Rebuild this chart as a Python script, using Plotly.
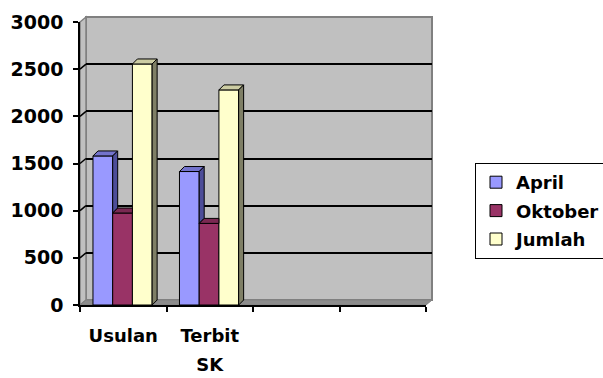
import plotly.graph_objects as go

# ---- data -----------------------------------------------------------------
categories = ["Usulan", "Terbit SK", "", ""]
series_names = ["April", "Oktober", "Jumlah"]
april = [1580, 1415]
oktober = [975, 865]
jumlah = [2555, 2280]
y_ticks = [0, 500, 1000, 1500, 2000, 2500, 3000]

# ---- styling ----------------------------------------------------------------
front_colors = ["#9999FF", "#993366", "#FFFFCC"]
side_colors = ["#4D4D99", "#5C1F3D", "#7F7F66"]
top_colors = ["#7373CC", "#7A2952", "#CCCCA3"]
FONT = "DejaVu Sans"

W, H = 603, 378


def fx(p):
    return p / W


def fy(p):
    return (H - p) / H


# front plane of the 3-D box (pixels) and the depth offset of the back wall
FL, FR, FT, FB = 80, 426, 22, 305
WALL_DX, WALL_DY = 6, 5
BAR_DX_PX, BAR_DY_PX = 5, 5

y_max = y_ticks[-1]
n_cat = len(categories)
px_per_cat = (FR - FL) / n_cat
px_per_val = (FB - FT) / y_max
dx = BAR_DX_PX / px_per_cat
dy = BAR_DY_PX / px_per_val

bar_w = 0.228
bar_start = -0.35

values = [april, oktober, jumlah]
xs = list(range(len(april)))

fig = go.Figure()

# front faces of the columns
for s, name in enumerate(series_names):
    fig.add_trace(go.Bar(
        x=xs, y=values[s], name=name,
        offset=bar_start + s * bar_w, width=bar_w,
        marker=dict(color=front_colors[s], line=dict(color="black", width=1)),
        xaxis="x2", yaxis="y2",
        legendgroup=name,
    ))

# top and side faces (clipped where the neighbouring column hides them)
for c in xs:
    for s in range(len(series_names)):
        v = values[s][c]
        x0 = c + bar_start + s * bar_w
        x1 = x0 + bar_w
        v_next = values[s + 1][c] if s + 1 < len(series_names) else 0
        if v_next > v:
            top_x = [x0, x1, x1, x0 + dx, x0]
            top_y = [v, v, v + dy, v + dy, v]
        else:
            top_x = [x0, x1, x1 + dx, x0 + dx, x0]
            top_y = [v, v, v + dy, v + dy, v]
        fig.add_trace(go.Scatter(
            x=top_x, y=top_y, mode="lines", fill="toself",
            fillcolor=top_colors[s], line=dict(color="black", width=1),
            xaxis="x2", yaxis="y2", showlegend=False, hoverinfo="skip",
        ))
        if v_next < v:
            b = max(v_next, 0)
            side_x = [x1, x1 + dx, x1 + dx, x1, x1]
            side_y = [b, b + dy, v + dy, v, b]
            fig.add_trace(go.Scatter(
                x=side_x, y=side_y, mode="lines", fill="toself",
                fillcolor=side_colors[s], line=dict(color="black", width=1),
                xaxis="x2", yaxis="y2", showlegend=False, hoverinfo="skip",
            ))

# helper traces so the wall grid and the second label row get their axes
fig.add_trace(go.Scatter(x=[None], y=[None], xaxis="x", yaxis="y",
                         showlegend=False, hoverinfo="skip"))
fig.add_trace(go.Scatter(x=[None], y=[None], xaxis="x3", yaxis="y2",
                         showlegend=False, hoverinfo="skip"))

# ---- box: back wall, side wall, floor ---------------------------------------
shapes = []
shapes.append(dict(
    type="rect", xref="paper", yref="paper", layer="below",
    x0=fx(FL + WALL_DX), x1=fx(FR + WALL_DX),
    y0=fy(FB - WALL_DY), y1=fy(FT - WALL_DY),
    fillcolor="#C0C0C0", line=dict(color="#808080", width=2),
))
shapes.append(dict(
    type="path", xref="paper", yref="paper", layer="below",
    path=(f"M {fx(FL)},{fy(FT)} L {fx(FL + WALL_DX)},{fy(FT - WALL_DY)} "
          f"L {fx(FL + WALL_DX)},{fy(FB - WALL_DY)} L {fx(FL)},{fy(FB)} Z"),
    fillcolor="#C0C0C0", line=dict(color="#808080", width=1.5),
))
shapes.append(dict(
    type="path", xref="paper", yref="paper", layer="below",
    path=(f"M {fx(FL)},{fy(FB)} L {fx(FR)},{fy(FB)} "
          f"L {fx(FR + WALL_DX)},{fy(FB - WALL_DY)} "
          f"L {fx(FL + WALL_DX)},{fy(FB - WALL_DY)} Z"),
    fillcolor="#8C8C8C", line=dict(color="#808080", width=1),
))
# grid lines running across the side wall
for t in y_ticks[1:-1]:
    yp = FB - t * px_per_val
    shapes.append(dict(
        type="line", xref="paper", yref="paper", layer="below",
        x0=fx(FL), y0=fy(yp), x1=fx(FL + WALL_DX), y1=fy(yp - WALL_DY),
        line=dict(color="black", width=1.5),
    ))

first_line = [c.split(" ")[0] if c else "" for c in categories]
second_line = [" ".join(c.split(" ")[1:]) for c in categories]
cat_pos = list(range(n_cat))

tick_font = dict(family=FONT, size=18, color="black", weight="bold")

fig.update_layout(
    width=W, height=H, autosize=False,
    margin=dict(l=0, r=0, t=0, b=0, autoexpand=False),
    paper_bgcolor="white", plot_bgcolor="rgba(0,0,0,0)",
    barmode="overlay",
    shapes=shapes,
    showlegend=True,
    legend=dict(
        xref="container", yref="container",
        x=fx(475), y=fy(163), xanchor="left", yanchor="top",
        bgcolor="white", bordercolor="black", borderwidth=1,
        font=dict(family=FONT, size=18, color="black", weight="bold"),
        traceorder="grouped", tracegroupgap=2, itemwidth=30,
    ),
    # back wall (grid)
    xaxis=dict(domain=[fx(FL + WALL_DX), fx(FR + WALL_DX)], range=[-0.5, n_cat - 0.5],
               anchor="y", showgrid=False, zeroline=False, showline=False,
               showticklabels=False, ticks=""),
    yaxis=dict(domain=[fy(FB - WALL_DY), fy(FT - WALL_DY)], range=[0, y_max],
               anchor="x", tickvals=y_ticks[1:-1], showgrid=True,
               gridcolor="black", gridwidth=1.5, zeroline=False,
               showline=False, showticklabels=False, ticks=""),
    # front plane (columns, axes, labels)
    xaxis2=dict(domain=[fx(FL), fx(FR)], range=[-0.5, n_cat - 0.5], anchor="y2",
                tickvals=cat_pos, ticktext=first_line, ticks="",
                showgrid=False, zeroline=False,
                showline=True, linecolor="black", linewidth=1.5,
                minor=dict(tick0=-0.5, dtick=1, ticks="outside", ticklen=5,
                           tickcolor="black", tickwidth=1.5, showgrid=False),
                tickfont=tick_font, ticklabelstandoff=14),
    xaxis3=dict(overlaying="x2", anchor="y2", range=[-0.5, n_cat - 0.5],
                tickvals=cat_pos, ticktext=second_line, ticks="",
                showgrid=False, zeroline=False, showline=False, side="bottom",
                tickfont=tick_font, ticklabelstandoff=47),
    yaxis2=dict(domain=[fy(FB), fy(FT)], range=[0, y_max], anchor="x2",
                tickvals=y_ticks, showgrid=False, zeroline=False,
                showline=True, linecolor="black", linewidth=1.5,
                ticks="outside", ticklen=5, tickcolor="black", tickwidth=1.5,
                tickfont=dict(family=FONT, size=19, color="black", weight="bold"),
                ticklabelstandoff=6),
)

fig.write_html("out.html")
